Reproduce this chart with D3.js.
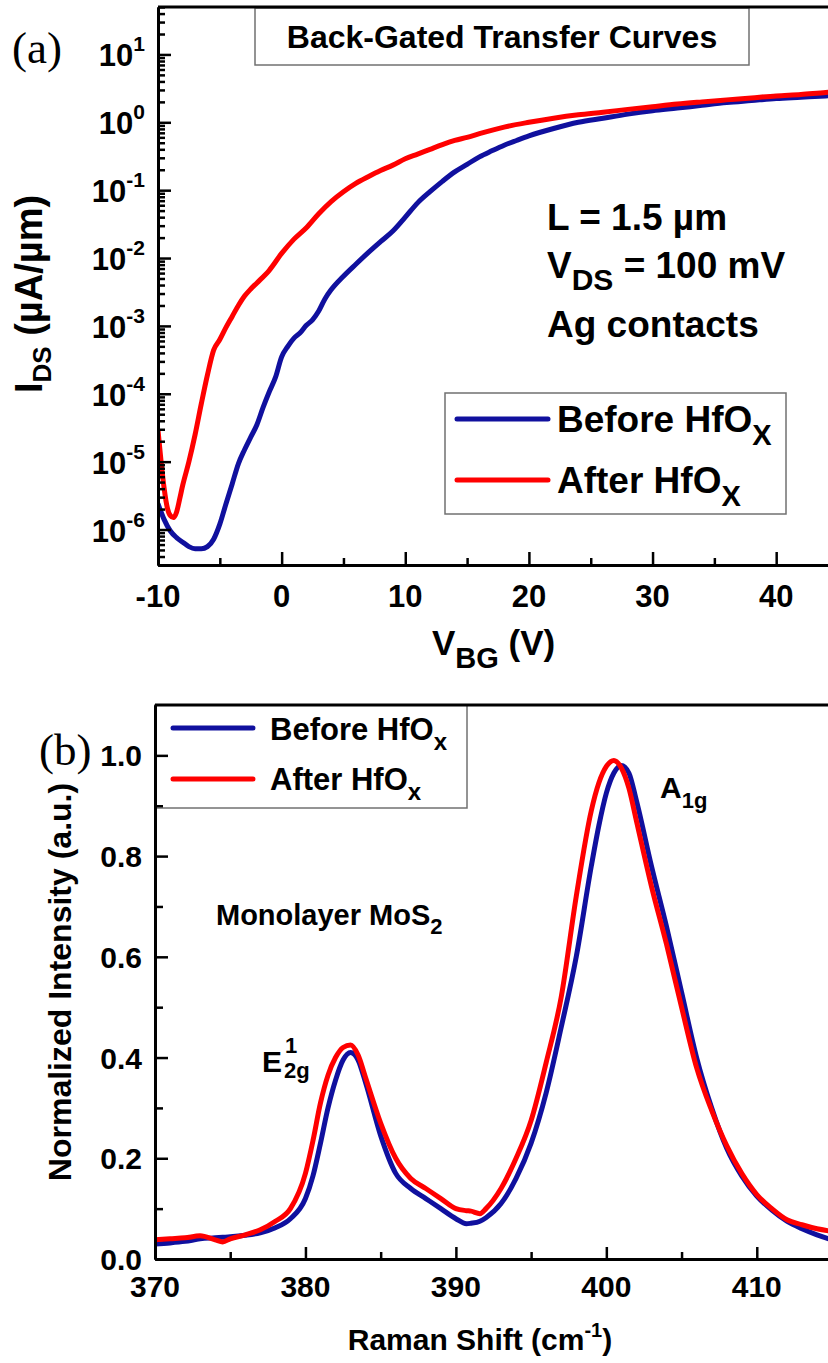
<!DOCTYPE html>
<html>
<head>
<meta charset="utf-8">
<script src="https://cdn.jsdelivr.net/npm/d3@7"></script>
<style>
  html, body { margin: 0; padding: 0; background: #fff; }
  svg { display: block; }
  text { font-family: "Liberation Sans", Arial, sans-serif; font-weight: bold; fill: #000; }
  text.serif { font-family: "Liberation Serif", "Times New Roman", serif; font-weight: normal; }
</style>
</head>
<body>
<svg id="fig" width="828" height="1363"></svg>
<script>
// ---------- Panel (a): back-gated transfer curves ----------
const vbgBefore = [-10, -9.5, -9, -8.5, -8, -7.5, -7, -6.5, -6, -5.5, -5, -4.5, -4, -3.5, -3, -2.5, -2, -1.5, -1, -0.5,
  0, 0.5, 1, 1.5, 2, 2.5, 3, 3.5, 4, 5, 6, 7, 8, 9, 10, 11, 12, 13, 14, 15, 16, 17, 18, 19, 20,
  22, 24, 26, 28, 30, 32, 34, 36, 38, 40, 42, 44, 45];
const idsBefore = [2.4e-6, 1.4e-6, 9.5e-7, 7.6e-7, 6.5e-7, 5.6e-7, 5.2e-7, 5.2e-7, 5.6e-7, 7.2e-7, 1.2e-6, 2.4e-6,
  4.7e-6, 9.3e-6, 1.5e-5, 2.3e-5, 3.5e-5, 6.3e-5, 1.07e-4, 1.74e-4,
  3.5e-4, 5.0e-4, 6.6e-4, 7.9e-4, 1.02e-3, 1.23e-3, 1.66e-3, 2.5e-3, 3.4e-3, 5.4e-3, 8.1e-3, 1.2e-2, 1.74e-2,
  2.5e-2, 4.0e-2, 6.5e-2, 9.5e-2, 0.135, 0.186, 0.24, 0.31, 0.38, 0.46, 0.54, 0.63,
  0.81, 1.0, 1.15, 1.32, 1.48, 1.62, 1.78, 1.95, 2.09, 2.24, 2.34, 2.45, 2.5];

const vbgAfter = [-10, -9.75, -9.5, -9.25, -9, -8.75, -8.5, -8.25, -8, -7.5, -7, -6.5, -6, -5.5, -5, -4.5, -4, -3.5,
  -3, -2.5, -2, -1, 0, 1, 2, 3, 4, 5, 6, 7, 8, 9, 10, 11, 12, 13, 14, 15, 16, 18, 20,
  22, 24, 26, 28, 30, 32, 34, 36, 38, 40, 42, 44, 45];
const idsAfter = [2.9e-5, 1.0e-5, 4.0e-6, 2.1e-6, 1.6e-6, 1.5e-6, 1.8e-6, 2.8e-6, 4.5e-6, 1.0e-5, 2.5e-5, 7.1e-5,
  1.9e-4, 4.4e-4, 6.3e-4, 9.5e-4, 1.38e-3, 2.0e-3,
  2.75e-3, 3.5e-3, 4.3e-3, 6.6e-3, 1.17e-2, 1.9e-2, 2.8e-2, 4.5e-2, 6.8e-2, 9.5e-2, 0.126, 0.158, 0.195, 0.234,
  0.29, 0.34, 0.40, 0.47, 0.54, 0.60, 0.68, 0.85, 1.0,
  1.15, 1.29, 1.41, 1.55, 1.70, 1.86, 2.0, 2.14, 2.29, 2.45, 2.57, 2.75, 2.82];

const transferXTicks = [-10, 0, 10, 20, 30, 40];
const transferXMinor = [-5, 5, 15, 25, 35, 45];
const transferYExponents = [-6, -5, -4, -3, -2, -1, 0, 1];

// ---------- Panel (b): Raman spectra ----------
const ramanShift = [370, 371, 372, 373, 374, 374.5, 375, 376, 377, 378,
  379, 380, 380.5, 381, 381.5, 382, 382.5, 383, 383.5, 384,
  385, 386, 387, 388, 389, 390, 390.7, 391, 391.6, 392,
  393, 394, 395, 396, 397, 398, 399, 399.5, 400, 400.5,
  401, 401.5, 402, 403, 404, 405, 406, 407, 408, 409,
  410, 411, 412, 413, 414, 415];
const ramanBefore = [0.030, 0.032, 0.035, 0.040, 0.042, 0.043, 0.044, 0.047, 0.052, 0.062,
  0.080, 0.120, 0.165, 0.230, 0.300, 0.355, 0.395, 0.410, 0.395, 0.350,
  0.245, 0.170, 0.140, 0.120, 0.100, 0.080, 0.070, 0.071, 0.075, 0.082,
  0.110, 0.160, 0.230, 0.330, 0.460, 0.600, 0.780, 0.860, 0.925, 0.965,
  0.980, 0.965, 0.910, 0.780, 0.660, 0.530, 0.400, 0.300, 0.220, 0.165,
  0.125, 0.097, 0.075, 0.060, 0.048, 0.038];
const ramanAfter = [0.038, 0.040, 0.042, 0.046, 0.038, 0.034, 0.040, 0.048, 0.058, 0.075,
  0.100, 0.170, 0.235, 0.310, 0.365, 0.400, 0.420, 0.425, 0.405, 0.360,
  0.270, 0.200, 0.160, 0.140, 0.120, 0.100, 0.096, 0.095, 0.090, 0.100,
  0.140, 0.200, 0.275, 0.390, 0.520, 0.720, 0.890, 0.945, 0.978, 0.990,
  0.975, 0.935, 0.870, 0.740, 0.625, 0.500, 0.380, 0.295, 0.225, 0.170,
  0.128, 0.100, 0.078, 0.068, 0.060, 0.055];
const ramanXTicks = [370, 380, 390, 400, 410];
const ramanXMinor = [375, 385, 395, 405, 415];
const ramanYTicks = [0, 0.2, 0.4, 0.6, 0.8, 1.0];
const ramanYMinor = [0.1, 0.3, 0.5, 0.7, 0.9];

const seriesLabels = ["Before HfO", "After HfO"];

// ---------- styling ----------
const BLUE = "#10109e";
const RED = "#ff0000";
const svg = d3.select("#fig");

// Text made of tspans; parts carry their own size and relative baseline shift.
function rich(parent, x, y, parts, anchor, transform) {
  const t = parent.append("text")
    .attr("x", x).attr("y", y)
    .attr("text-anchor", anchor || "start");
  if (transform) t.attr("transform", transform);
  parts.forEach(p => {
    t.append("tspan").attr("font-size", p.size).attr("dy", p.dy || 0).text(p.t);
  });
  return t;
}

function styleAxis(g, width) {
  g.select(".domain").attr("stroke", "#000").attr("stroke-width", width);
  g.selectAll(".tick line").attr("stroke", "#000").attr("stroke-width", 2.5);
  g.selectAll(".tick text").remove();
}

// ===================== Panel (a) =====================
const A = { left: 158, right: 838, top: 7, bottom: 565 };
const xA = d3.scaleLinear().domain([-10, 45]).range([A.left, A.right]);
const yA = d3.scaleLog().domain([3e-7, 50]).range([A.bottom, A.top]);

svg.append("clipPath").attr("id", "clipA").append("rect")
  .attr("x", A.left).attr("y", A.top).attr("width", A.right - A.left).attr("height", A.bottom - A.top);

const gA = svg.append("g");

// title box
gA.append("rect").attr("x", 255).attr("y", 8).attr("width", 494).attr("height", 57)
  .attr("fill", "#fff").attr("stroke", "#707070").attr("stroke-width", 1.5);
rich(gA, 502, 48, [{ t: "Back-Gated Transfer Curves", size: 32 }], "middle");

// curves
const lineA = d3.line().x(d => xA(d[0])).y(d => yA(d[1])).curve(d3.curveMonotoneX);
const curvesA = gA.append("g").attr("clip-path", "url(#clipA)");
curvesA.append("path").datum(d3.zip(vbgBefore, idsBefore)).attr("d", lineA)
  .attr("fill", "none").attr("stroke", BLUE).attr("stroke-width", 5).attr("stroke-linejoin", "round");
curvesA.append("path").datum(d3.zip(vbgAfter, idsAfter)).attr("d", lineA)
  .attr("fill", "none").attr("stroke", RED).attr("stroke-width", 5).attr("stroke-linejoin", "round");

// axes
const yMajorA = transferYExponents.map(e => Math.pow(10, e));
const yMinorA = [];
for (let e = -7; e <= 1; e++) {
  for (let k = 2; k <= 9; k++) {
    const v = k * Math.pow(10, e);
    if (v >= 3e-7 && v <= 50) yMinorA.push(v);
  }
}
const gAxYa = gA.append("g").attr("transform", `translate(${A.left},0)`)
  .call(d3.axisLeft(yA).tickValues(yMajorA).tickSize(-13).tickSizeOuter(0).tickFormat(""));
styleAxis(gAxYa, 3);
const gAxYaMinor = gA.append("g").attr("transform", `translate(${A.left},0)`)
  .call(d3.axisLeft(yA).tickValues(yMinorA).tickSize(-7).tickSizeOuter(0).tickFormat(""));
styleAxis(gAxYaMinor, 3);

const gAxXa = gA.append("g").attr("transform", `translate(0,${A.bottom})`)
  .call(d3.axisBottom(xA).tickValues(transferXTicks).tickSize(-13).tickSizeOuter(0).tickFormat(""));
styleAxis(gAxXa, 3);
const gAxXaMinor = gA.append("g").attr("transform", `translate(0,${A.bottom})`)
  .call(d3.axisBottom(xA).tickValues(transferXMinor).tickSize(-7).tickSizeOuter(0).tickFormat(""));
styleAxis(gAxXaMinor, 3);
gA.append("line").attr("x1", A.left).attr("x2", A.right).attr("y1", A.top).attr("y2", A.top)
  .attr("stroke", "#000").attr("stroke-width", 3);

// tick labels
transferYExponents.forEach(e => {
  rich(gA, 145, yA(Math.pow(10, e)) + 12, [{ t: "10", size: 31 }, { t: String(e), size: 21, dy: -15 }], "end");
});
transferXTicks.forEach(v => {
  rich(gA, xA(v), 607, [{ t: String(v), size: 31 }], "middle");
});

// axis titles
rich(gA, 432, 655, [{ t: "V", size: 35 }, { t: "BG", size: 29, dy: 13 }, { t: " (V)", size: 35, dy: -13 }], "start");
rich(gA, 0, 0, [{ t: "I", size: 38 }, { t: "DS", size: 26, dy: 9 }, { t: " (\u00b5A/\u00b5m)", size: 38, dy: -9 }],
  "middle", "translate(42,294) rotate(-90)");

// annotations
rich(gA, 547, 230, [{ t: "L = 1.5 \u00b5m", size: 37 }]);
rich(gA, 547, 278, [{ t: "V", size: 37 }, { t: "DS", size: 30, dy: 12 }, { t: " = 100 mV", size: 37, dy: -12 }]);
rich(gA, 547, 337, [{ t: "Ag contacts", size: 37 }]);
gA.append("text").attr("class", "serif").attr("x", 12).attr("y", 63).attr("font-size", 45).text("(a)");

// legend
gA.append("rect").attr("x", 445).attr("y", 393).attr("width", 341).attr("height", 121)
  .attr("fill", "#fff").attr("stroke", "#707070").attr("stroke-width", 1.5);
[[BLUE, 419, 432], [RED, 480, 493]].forEach(([c, ly, ty], i) => {
  gA.append("line").attr("x1", 457).attr("x2", 548).attr("y1", ly).attr("y2", ly)
    .attr("stroke", c).attr("stroke-width", 5).attr("stroke-linecap", "round");
  rich(gA, 557, ty, [{ t: seriesLabels[i], size: 37 }, { t: "X", size: 29, dy: 13 }]);
});

// ===================== Panel (b) =====================
const B = { left: 155, right: 832, top: 705, bottom: 1259 };
const xB = d3.scaleLinear().domain([370, 415]).range([B.left, B.right]);
const yB = d3.scaleLinear().domain([0, 1.1]).range([B.bottom, B.top]);

svg.append("clipPath").attr("id", "clipB").append("rect")
  .attr("x", B.left).attr("y", B.top).attr("width", B.right - B.left).attr("height", B.bottom - B.top);

const gB = svg.append("g");

// legend box
gB.append("rect").attr("x", B.left).attr("y", B.top).attr("width", 312).attr("height", 103)
  .attr("fill", "#fff").attr("stroke", "#707070").attr("stroke-width", 1.5);
[[BLUE, 728, 740], [RED, 779, 790]].forEach(([c, ly, ty], i) => {
  gB.append("line").attr("x1", 173).attr("x2", 253).attr("y1", ly).attr("y2", ly)
    .attr("stroke", c).attr("stroke-width", 5).attr("stroke-linecap", "round");
  rich(gB, 270, ty, [{ t: seriesLabels[i], size: 31 }, { t: "x", size: 24, dy: 10 }]);
});

// spectra
const lineB = d3.line().x(d => xB(d[0])).y(d => yB(d[1])).curve(d3.curveMonotoneX);
const curvesB = gB.append("g").attr("clip-path", "url(#clipB)");
curvesB.append("path").datum(d3.zip(ramanShift, ramanBefore)).attr("d", lineB)
  .attr("fill", "none").attr("stroke", BLUE).attr("stroke-width", 5).attr("stroke-linejoin", "round");
curvesB.append("path").datum(d3.zip(ramanShift, ramanAfter)).attr("d", lineB)
  .attr("fill", "none").attr("stroke", RED).attr("stroke-width", 5).attr("stroke-linejoin", "round");

// axes
const gAxYb = gB.append("g").attr("transform", `translate(${B.left},0)`)
  .call(d3.axisLeft(yB).tickValues(ramanYTicks).tickSize(-13).tickSizeOuter(0).tickFormat(""));
styleAxis(gAxYb, 3);
const gAxYbMinor = gB.append("g").attr("transform", `translate(${B.left},0)`)
  .call(d3.axisLeft(yB).tickValues(ramanYMinor).tickSize(-8).tickSizeOuter(0).tickFormat(""));
styleAxis(gAxYbMinor, 3);
const gAxXb = gB.append("g").attr("transform", `translate(0,${B.bottom})`)
  .call(d3.axisBottom(xB).tickValues(ramanXTicks).tickSize(-12).tickSizeOuter(0).tickFormat(""));
styleAxis(gAxXb, 3);
const gAxXbMinor = gB.append("g").attr("transform", `translate(0,${B.bottom})`)
  .call(d3.axisBottom(xB).tickValues(ramanXMinor).tickSize(-7).tickSizeOuter(0).tickFormat(""));
styleAxis(gAxXbMinor, 3);
gB.append("line").attr("x1", B.left).attr("x2", B.right).attr("y1", B.top).attr("y2", B.top)
  .attr("stroke", "#000").attr("stroke-width", 3);

// tick labels
ramanYTicks.forEach(v => {
  rich(gB, 142, yB(v) + 11, [{ t: d3.format(".1f")(v), size: 30 }], "end");
});
ramanXTicks.forEach(v => {
  rich(gB, xB(v), 1297, [{ t: String(v), size: 30 }], "middle");
});

// axis titles
rich(gB, 480, 1350, [{ t: "Raman Shift (cm", size: 30 }, { t: "-1", size: 20, dy: -13 }, { t: ")", size: 30, dy: 13 }], "middle");
rich(gB, 0, 0, [{ t: "Normalized Intensity (a.u.)", size: 32 }], "middle", "translate(71,982) rotate(-90)");

// annotations
svg.append("text").attr("class", "serif").attr("x", 39).attr("y", 765).attr("font-size", 45).text("(b)");
rich(gB, 216, 925, [{ t: "Monolayer MoS", size: 29 }, { t: "2", size: 22, dy: 9 }]);

const eLabel = rich(gB, 262, 1072, [{ t: "E", size: 30 }]);
const eW = eLabel.node().getComputedTextLength();
rich(gB, 262 + eW + 3, 1053, [{ t: "1", size: 22 }]);
rich(gB, 262 + eW + 2, 1078, [{ t: "2g", size: 22 }]);

rich(gB, 660, 798, [{ t: "A", size: 30 }, { t: "1g", size: 22, dy: 10 }]);
</script>
</body>
</html>
